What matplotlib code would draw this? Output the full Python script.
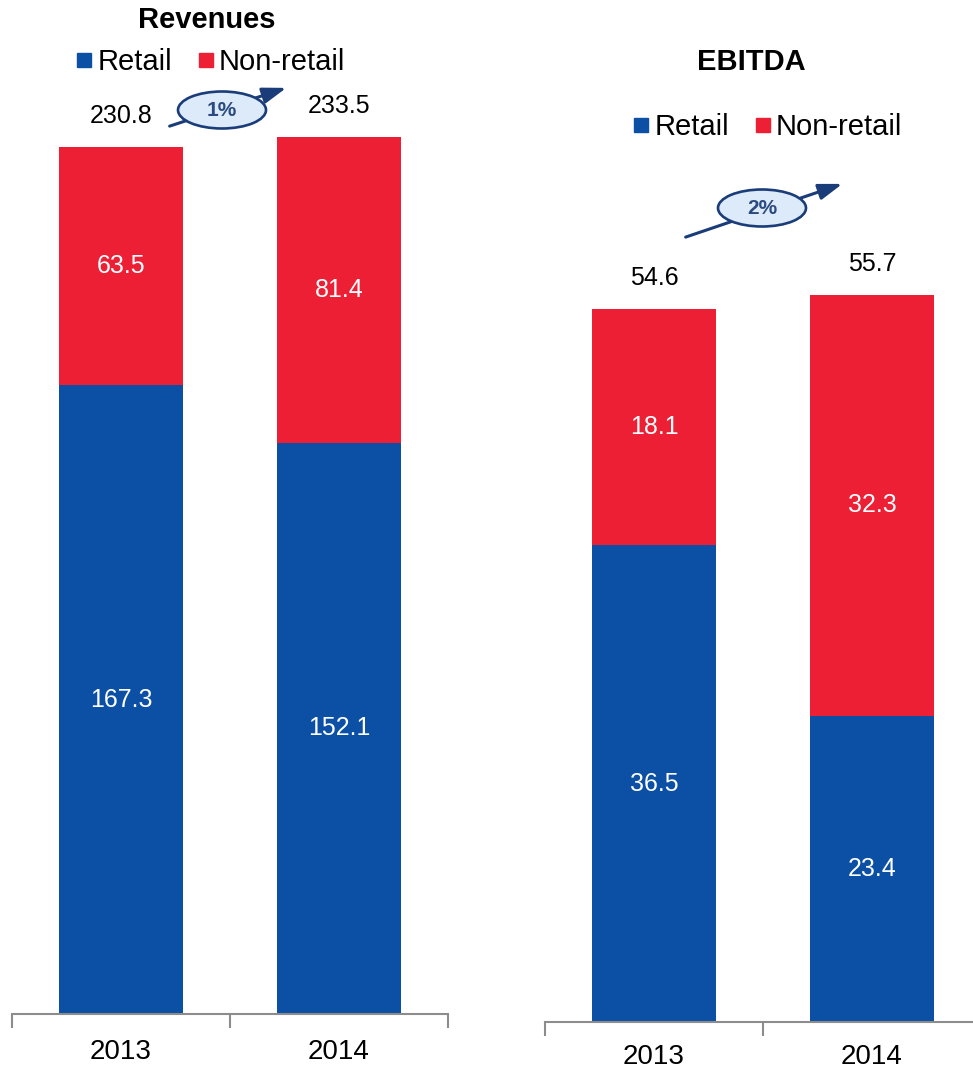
import matplotlib
matplotlib.use("Agg")
import matplotlib.pyplot as plt
from matplotlib.lines import Line2D
from matplotlib.patches import Ellipse, FancyArrowPatch

plt.rcParams['font.family'] = ['Liberation Sans', 'DejaVu Sans']

# Дані
years = ['2013', '2014']
rev_retail = [167.3, 152.1]
rev_nonretail = [63.5, 81.4]
rev_total = [230.8, 233.5]
ebitda_retail = [36.5, 23.4]
ebitda_nonretail = [18.1, 32.3]
ebitda_total = [54.6, 55.7]
rev_growth = '1%'
ebitda_growth = '2%'

BLUE = '#0B50A4'
RED = '#EC1F35'
NAVY = '#1A3C78'
GREY = '#8C8C8C'

W, H = 973, 1069
fig = plt.figure(figsize=(W / 100, H / 100), dpi=100)


def fx(px):
    return px / W


def fy(py):
    return 1 - py / H


def draw_panel(ax, retail, nonretail, total, ytop, pad):
    x = list(range(len(years)))
    ax.bar(x, retail, width=0.57, color=BLUE)
    ax.bar(x, nonretail, width=0.57, bottom=retail, color=RED)
    for i in x:
        ax.text(i, retail[i] / 2, f'{retail[i]:.1f}', color='white',
                ha='center', va='center', fontsize=18)
        ax.text(i, retail[i] + nonretail[i] / 2, f'{nonretail[i]:.1f}',
                color='white', ha='center', va='center', fontsize=18)
        ax.annotate(f'{total[i]:.1f}', (i, total[i]), xytext=(0, 22),
                    textcoords='offset points', ha='center', va='center',
                    fontsize=18, annotation_clip=False)
    ax.set_xlim(-0.5, len(years) - 0.5)
    ax.set_ylim(0, ytop)
    ax.set_xticks(x)
    ax.set_xticklabels(years, fontsize=20)
    ax.set_xticks([-0.5, 0.5, 1.5], minor=True)
    ax.tick_params(axis='x', which='major', length=0, pad=pad)
    ax.tick_params(axis='x', which='minor', length=10, width=1.5,
                   color=GREY, direction='out')
    ax.set_yticks([])
    for s in ['top', 'right', 'left']:
        ax.spines[s].set_visible(False)
    ax.spines['bottom'].set_color(GREY)
    ax.spines['bottom'].set_linewidth(1.5)


ax1 = fig.add_axes([fx(12), fy(1014), fx(436), 914 / H])
draw_panel(ax1, rev_retail, rev_nonretail, rev_total, 914 / 3.757, 18)

ax2 = fig.add_axes([fx(545), fy(1022), fx(436), 772 / H])
draw_panel(ax2, ebitda_retail, ebitda_nonretail, ebitda_total, 772 / 13.06, 16)

# Заголовки
fig.text(fx(207), fy(20), 'Revenues', ha='center', va='center',
         fontsize=21, fontweight='bold')
fig.text(fx(751), fy(62), 'EBITDA', ha='center', va='center',
         fontsize=21, fontweight='bold')

# Легенди
handles = [Line2D([], [], marker='s', ls='none', color=BLUE, markersize=10),
           Line2D([], [], marker='s', ls='none', color=RED, markersize=10)]
for cx, cy in [(211, 62), (768, 127)]:
    fig.legend(handles, ['Retail', 'Non-retail'], ncol=2, frameon=False,
               fontsize=21, loc='center', bbox_to_anchor=(fx(cx), fy(cy)),
               handlelength=0.5, handletextpad=0.2, columnspacing=0.9,
               borderpad=0, borderaxespad=0)


# Стрілки зростання
def growth(label, p0, p1, center):
    arr = FancyArrowPatch((fx(p0[0]), fy(p0[1])), (fx(p1[0]), fy(p1[1])),
                          transform=fig.transFigure,
                          arrowstyle='-|>,head_length=0.65,head_width=0.22',
                          mutation_scale=22, lw=2.2, color=NAVY, zorder=5)
    fig.patches.append(arr)
    ell = Ellipse((fx(center[0]), fy(center[1])), 88 / W, 37 / H,
                  transform=fig.transFigure, facecolor='#DCEAF9',
                  edgecolor=NAVY, lw=1.9, zorder=6)
    fig.patches.append(ell)
    fig.text(fx(center[0]), fy(center[1]), label, ha='center', va='center',
             fontsize=15, fontweight='bold', color='#2B4B80', zorder=7)


growth(rev_growth, (167, 127), (289, 87), (222, 110))
growth(ebitda_growth, (683, 238), (845, 183), (762, 208))

fig.savefig('out.png', dpi=100)
